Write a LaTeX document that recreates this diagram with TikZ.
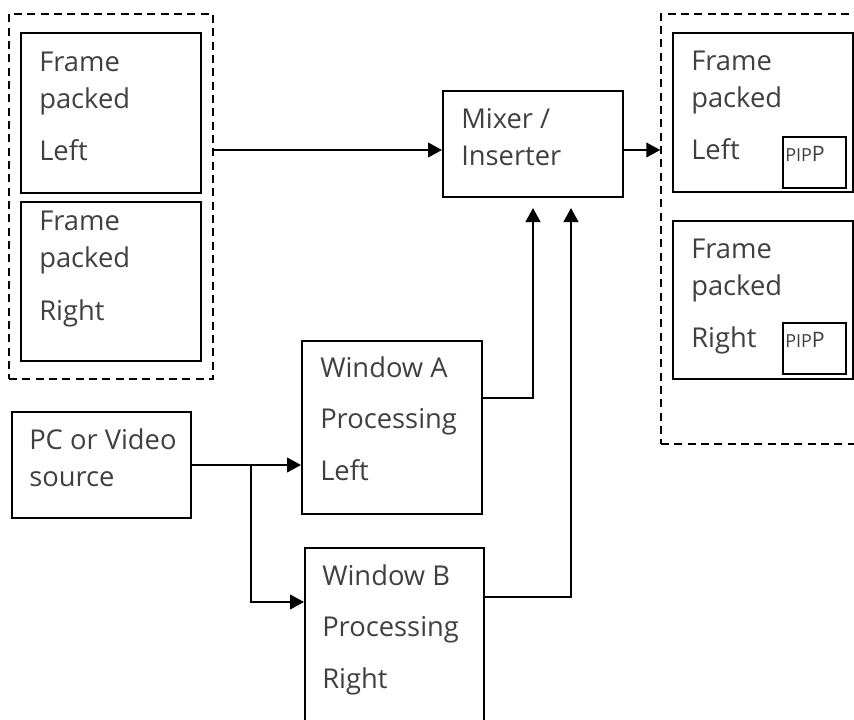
\documentclass[tikz,border=0pt]{standalone}
\usepackage{fontspec}
\setmainfont{Open Sans}
\usetikzlibrary{arrows.meta,positioning}
\definecolor{txtgrey}{RGB}{64,64,64}

\begin{document}
\begin{tikzpicture}[x=0.75pt, y=-0.75pt,
    blk/.style={rectangle, draw, line width=1.5pt, inner sep=0pt},
    grp/.style={rectangle, draw, line width=1.1pt, dash pattern=on 6pt off 4pt, inner sep=0pt},
    lbl/.style={anchor=base west, align=left, inner sep=0pt, text=txtgrey,
        font=\fontsize{20.5}{27.5}\selectfont},
    lblw/.style={lbl, font=\fontsize{20.5}{38.5}\selectfont},
    arr/.style={-{Triangle[length=10.5pt, width=11pt]}, line width=1.5pt}
]
    \clip (0,0) rectangle (854,719);

    % input frames
    \node[grp, minimum width=153pt, minimum height=273.75pt] (lgrp) at (111,196.5) {};
    \node[blk, minimum width=135pt, minimum height=120pt] (fl1) at (111,113) {};
    \node[blk, minimum width=135pt, minimum height=119.25pt] (fl2) at (110.5,281.5) {};
    \node[lbl] (fl1t) at (39,160) {Frame\\packed\\[11.25pt]Left};
    \node[lbl] (fl2t) at (39,320) {Frame\\packed\\[12pt]Right};

    % mixer
    \node[blk, minimum width=135pt, minimum height=79.5pt] (mix) at (533,144) {};
    \node[lbl] (mixt) at (461,165) {Mixer /\\Inserter};
    \coordinate (mixin) at ([yshift=-4.5pt]mix.west);
    \coordinate (mixout) at ([yshift=-4.5pt]mix.east);

    % output frames with PIP
    \node[grp, minimum width=164.25pt, minimum height=322.5pt] (rgrp) at (770.5,229) {};
    \node[blk, minimum width=135pt, minimum height=119.25pt] (fr1) at (763,112.5) {};
    \node[blk, minimum width=135pt, minimum height=118.5pt] (fr2) at (763,300) {};
    \node[lbl] (fr1t) at (691,159) {Frame\\packed\\[11.25pt]Left};
    \node[lbl] (fr2t) at (691,347) {Frame\\packed\\[11.25pt]Right};
    \node[blk, line width=1.2pt, minimum width=47.25pt, minimum height=38.25pt] (pip1) at (814.5,162.5) {};
    \node[blk, line width=1.2pt, minimum width=47.25pt, minimum height=38.25pt] (pip2) at (814.5,348.5) {};
    \node[lbl, font=\fontsize{16}{16}\selectfont] (pip1t) at (785,161) {{\fontsize{13.5}{13.5}\selectfont PIP}P};
    \node[lbl, font=\fontsize{16}{16}\selectfont] (pip2t) at (785,347) {{\fontsize{13.5}{13.5}\selectfont PIP}P};

    % source and window processing
    \node[blk, minimum width=134.25pt, minimum height=79.5pt] (pc) at (101.5,465) {};
    \node[lbl] (pct) at (29,486) {PC or Video\\source};
    \node[blk, minimum width=135pt, minimum height=129.75pt] (wina) at (392,427.5) {};
    \node[lblw] (winat) at (320,480) {Window A\\Processing\\Left};
    \node[blk, minimum width=134.25pt, minimum height=144pt] (winb) at (394.5,644) {};
    \node[lblw] (winbt) at (322,688) {Window B\\Processing\\Right};
    \coordinate (br) at (251,465);

    % connectors
    \draw[arr] (lgrp.east |- mixin) -- (mixin);
    \draw[arr] (mixout) -- (rgrp.west |- mixout);
    \draw[arr] (pc.east) -- (pc.east -| wina.west);
    \draw[arr] (br) |- (winb.west |- 0,602);
    \draw[arr] (wina.east |- 0,398) -| ([yshift=-7.5pt]mix.south);
    \draw[arr] (winb.east |- 0,597) -| ([xshift=28.5pt, yshift=-7.5pt]mix.south);
\end{tikzpicture}
\end{document}
